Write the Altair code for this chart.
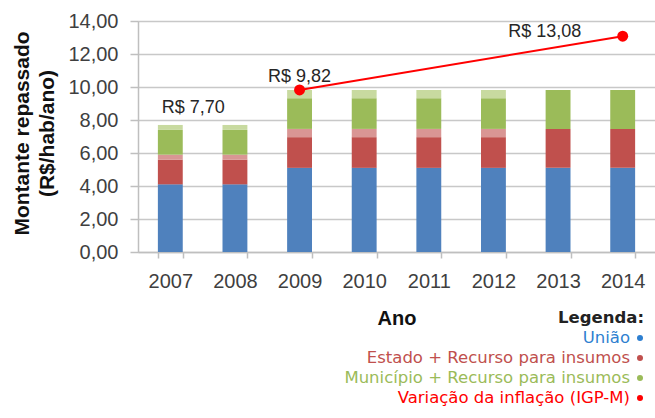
import altair as alt
import pandas as pd

# ---- data ----
anos = ["2007", "2008", "2009", "2010", "2011", "2012", "2013", "2014"]
uniao = [4.10, 4.10, 5.10, 5.10, 5.10, 5.10, 5.10, 5.10]
estado = [1.50, 1.50, 1.86, 1.86, 1.86, 1.86, 2.36, 2.36]
estado_insumos = [0.30, 0.30, 0.50, 0.50, 0.50, 0.50, 0.00, 0.00]
municipio = [1.50, 1.50, 1.86, 1.86, 1.86, 1.86, 2.36, 2.36]
municipio_insumos = [0.30, 0.30, 0.50, 0.50, 0.50, 0.50, 0.00, 0.00]

inflacao_anos = ["2009", "2014"]
inflacao_valores = [9.82, 13.08]

rotulos_anos = ["2007", "2009", "2014"]
rotulos_valores = [7.70, 9.82, 13.08]
rotulos_textos = ["R$ 7,70", "R$ 9,82", "R$ 13,08"]

series = [
    "União",
    "Estado + Recurso para insumos",
    "Município + Recurso para insumos",
    "Variação da inflação (IGP-M)",
    "Estado (insumos)",
    "Município (insumos)",
]
cores = ["#4F81BD", "#C0504D", "#9BBB59", "#FF0000", "#D99694", "#C8DAA0"]
legenda_titulo = ["Legenda:"]
legenda_valores = series[:4]
legenda_cores = ["#2E7FD0", "#C0504D", "#9BBB59", "#FF0000"]

# ---- tables ----
rows = []
pilha = [
    (series[0], uniao),
    (series[1], estado),
    (series[4], estado_insumos),
    (series[2], municipio),
    (series[5], municipio_insumos),
]
for ordem, (nome, vals) in enumerate(pilha):
    for a, v in zip(anos, vals):
        rows.append({"ano": a, "serie": nome, "valor": v, "ordem": ordem})
df_bars = pd.DataFrame(rows)

df_inf = pd.DataFrame({"ano": inflacao_anos, "valor": inflacao_valores,
                       "serie": [series[3]] * len(inflacao_anos)})
df_rot = pd.DataFrame({"ano": rotulos_anos, "valor": rotulos_valores, "texto": rotulos_textos})
df_leg = pd.DataFrame({"serie": legenda_valores})
df_leg_tit = pd.DataFrame({"t": legenda_titulo})

FONT = "Liberation Sans"
xscale = alt.Scale(domain=anos, paddingInner=0.615, paddingOuter=0.3075)
yscale = alt.Scale(domain=[0, 14])
cscale = alt.Scale(domain=series, range=cores)

x_axis = alt.Axis(
    title="Ano", labelAngle=0, tickBand="extent", grid=False,
    labelFont=FONT, labelFontSize=20, labelColor="#3F3F3F", labelPadding=13,
    titleFont=FONT, titleFontSize=20, titleFontWeight="bold", titleColor="#111111",
    titlePadding=17, domainColor="#BFBFBF", domainWidth=1.5,
    tickColor="#BFBFBF", tickSize=6, tickWidth=1.5,
)
y_axis = alt.Axis(
    title=["Montante repassado", "(R$/hab/ano)"],
    values=[0, 2, 4, 6, 8, 10, 12, 14],
    labelExpr="replace(format(datum.value, '.2f'), '.', ',')",
    labelOverlap=False,
    labelFont=FONT, labelFontSize=20, labelColor="#3F3F3F", labelPadding=12,
    titleFont=FONT, titleFontSize=21, titleFontWeight="bold", titleColor="#111111",
    titleAngle=270, titleBaseline="top", titleAlign="center",
    titleX=-127, titleY=112, titleLineHeight=25,
    grid=True, gridColor="#C8C8C8", gridWidth=1.5,
    domainColor="#BFBFBF", domainWidth=1.5, tickColor="#BFBFBF", tickSize=8, tickWidth=1.5,
)

X = alt.X("ano:N", scale=xscale, axis=x_axis)
Y = alt.Y("valor:Q", scale=yscale, axis=y_axis)
C = alt.Color("serie:N", scale=cscale, legend=None)

bars = alt.Chart(df_bars).mark_bar().encode(
    x=X,
    y=alt.Y("valor:Q", stack="zero", scale=yscale, axis=y_axis),
    color=C,
    order=alt.Order("ordem:Q"),
)

line = alt.Chart(df_inf).mark_line(strokeWidth=2).encode(x=X, y=Y, color=C)
pts = alt.Chart(df_inf).mark_point(filled=True, size=120, opacity=1).encode(x=X, y=Y, color=C)

def rotulo(ano, dx, dy):
    return alt.Chart(df_rot).transform_filter(alt.datum.ano == ano).mark_text(
        font=FONT, fontSize=18, color="#262626", dx=dx, dy=dy, baseline="middle", align="center"
    ).encode(x=X, y=Y, text="texto:N")

grafico = alt.layer(
    bars, line, pts,
    rotulo("2007", 23, -17), rotulo("2009", 0, -13), rotulo("2014", -78, -4),
)

# ---- legend (right-aligned labels followed by a dot, as in the reference) ----
ylegend = alt.Y("serie:N", scale=alt.Scale(type="point", domain=legenda_valores,
                                           range=[317, 377], padding=0), axis=None)
CL = alt.Color("serie:N", scale=alt.Scale(domain=legenda_valores, range=legenda_cores), legend=None)
leg_txt = alt.Chart(df_leg).mark_text(
    align="right", baseline="middle", font="DejaVu Sans", fontSize=16.5
).encode(x=alt.value(492), y=ylegend, text="serie:N", color=CL)
leg_dot = alt.Chart(df_leg).mark_circle(size=36, opacity=1).encode(
    x=alt.value(502), y=ylegend, color=CL
)
leg_tit = alt.Chart(df_leg_tit).mark_text(
    align="right", baseline="middle", font="DejaVu Sans", fontSize=16.5,
    fontWeight="bold", color="#222222"
).encode(x=alt.value(506), y=alt.value(297), text="t:N")
legenda = alt.layer(leg_txt, leg_dot, leg_tit)

chart = alt.layer(
    grafico, legenda
).resolve_scale(y="independent", color="independent").properties(
    width=517, height=231,
    autosize=alt.AutoSizeParams(type="none"),
    padding={"left": 138, "top": 21, "right": 0, "bottom": 166},
).configure_view(stroke=None).configure(background="white")

chart.save("out.html", embed_options={"renderer": "svg", "actions": False})
